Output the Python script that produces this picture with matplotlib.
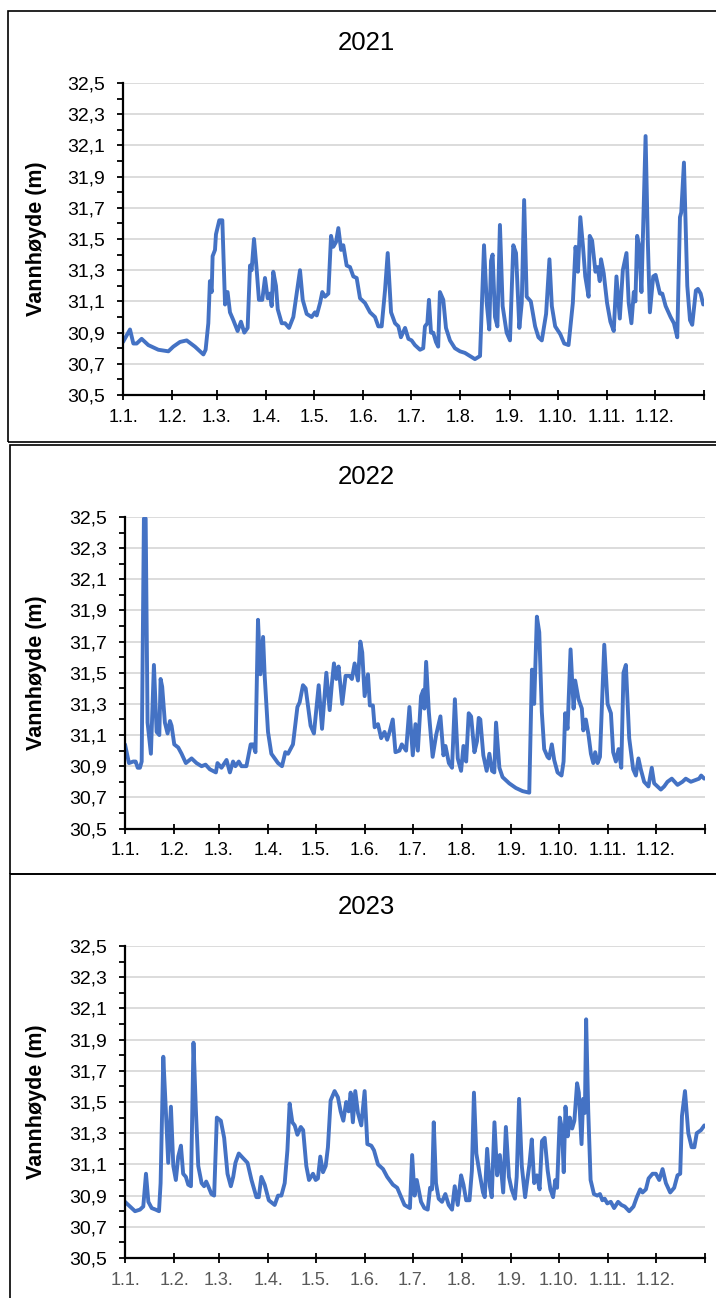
import numpy as np
import matplotlib
matplotlib.use("Agg")
import matplotlib.pyplot as plt
from matplotlib.patches import Rectangle
from matplotlib.ticker import FixedLocator, MultipleLocator

plt.rcParams['font.family'] = ['Liberation Sans', 'DejaVu Sans']

# day of year (0 = 1 Jan) and water level in metres
days_2021 = [0, 4.4, 6.5, 8.6, 11.7, 15.9, 22.2, 28.5, 31.6, 35.8, 40, 45.2, 50.5, 51.9,
             53.6, 54.6, 55.7, 56.3, 57.8, 58.4, 60.5, 62.4, 64.1, 65.7, 67.2, 69.3, 72,
             74.1, 76.2, 78.3, 79.8, 80.8, 82.3, 84, 85.4, 87.5, 89.2, 90.9, 92.3, 93.4,
             94.4, 96.1, 97.2, 99.7, 101.8, 104.3, 107, 109.1, 111.2, 112.9, 115.4, 118.5,
             120.6, 121.7, 123.8, 125.2, 126.9, 129, 130.7, 132.1, 133.8, 135.3, 137, 138.4,
             140.5, 142.6, 144.7, 146.8, 148.9, 152, 155.2, 158.3, 160.4, 162.5, 164.6,
             166.3, 168.4, 170.9, 173, 174.6, 177.2, 179.3, 181.3, 183.4, 186.6, 188.6,
             189.7, 191.2, 192.2, 193.5, 194.9, 196.6, 198, 199.1, 201.2, 202.9, 205.4,
             208.5, 211.7, 214.8, 218, 221.1, 224.3, 226.8, 228.5, 230.1, 231.2, 232.2,
             233.7, 235.2, 236.8, 238.5, 241, 243.1, 245.2, 246.9, 249, 250.5, 252, 253.6,
             256.2, 258.9, 261, 263.1, 265.8, 267.9, 269.4, 271.5, 274.7, 277.2, 279.9,
             282.6, 284.3, 285.8, 287.3, 289, 290.4, 292.5, 293.2, 294.7, 296.8, 298.2,
             299.5, 300.3, 302, 304.1, 306.2, 308.3, 310, 312.1, 314, 316.3, 317.7, 319.4,
             320.9, 321.9, 323, 324.2, 325.7, 328.3, 329.7, 331, 333.1, 334.6, 337.3,
             338.8, 340.9, 344, 346.1, 348.2, 349.9, 350.7, 352.4, 354.5, 356.2, 357.6,
             359.9, 361.2, 362.9, 364.5]
level_2021 = [30.84, 30.92, 30.83, 30.83, 30.86, 30.82, 30.79, 30.78, 30.81, 30.84, 30.85,
              30.81, 30.76, 30.79, 30.96, 31.23, 31.16, 31.39, 31.43, 31.53, 31.62, 31.62,
              31.08, 31.16, 31.03, 30.98, 30.91, 30.97, 30.90, 30.93, 31.33, 31.30, 31.50,
              31.30, 31.11, 31.11, 31.25, 31.12, 31.15, 31.07, 31.29, 31.20, 31.05, 30.96,
              30.96, 30.93, 31.00, 31.15, 31.30, 31.11, 31.02, 31.00, 31.03, 31.01, 31.09,
              31.16, 31.13, 31.15, 31.52, 31.45, 31.48, 31.57, 31.43, 31.46, 31.33, 31.32,
              31.26, 31.25, 31.12, 31.09, 31.03, 31.00, 30.94, 30.94, 31.17, 31.41, 31.03,
              30.96, 30.94, 30.87, 30.93, 30.86, 30.85, 30.82, 30.79, 30.80, 30.94, 30.96,
              31.11, 30.90, 30.90, 30.84, 30.81, 31.16, 31.11, 30.93, 30.85, 30.80, 30.78,
              30.77, 30.75, 30.73, 30.75, 31.46, 31.09, 30.92, 31.36, 31.40, 31.00, 30.94,
              31.59, 31.07, 30.90, 30.85, 31.46, 31.41, 30.93, 31.09, 31.75, 31.13, 31.10,
              30.94, 30.87, 30.85, 31.02, 31.37, 31.07, 30.94, 30.89, 30.83, 30.82, 31.09,
              31.45, 31.29, 31.64, 31.45, 31.26, 31.13, 31.52, 31.49, 31.29, 31.32, 31.23,
              31.37, 31.28, 31.09, 30.97, 30.91, 31.26, 30.99, 31.30, 31.41, 31.09, 30.96,
              31.16, 31.10, 31.52, 31.46, 31.16, 32.16, 31.49, 31.03, 31.26, 31.27, 31.15,
              31.15, 31.07, 31.00, 30.96, 30.87, 31.64, 31.67, 31.99, 31.20, 30.98, 30.95,
              31.17, 31.18, 31.15, 31.08]

days_2022 = [0, 2.5, 5.2, 6.7, 8, 9.4, 10.5, 11.9, 13, 14.2, 16.3, 18.2, 19.9, 21.6, 22.4,
             23.4, 25.1, 26.8, 28.3, 29.3, 31, 33.5, 35.6, 38.3, 41.9, 45, 48.2, 50.7, 53.4,
             57.2, 58.2, 60.7, 63.9, 66, 68, 69.5, 71.6, 73.3, 76.4, 79.1, 80.6, 82.1, 83.7,
             85.2, 86.9, 87.9, 90, 92.1, 96.3, 98.8, 100.9, 102.6, 105.7, 108.5, 109.9, 112,
             113.7, 116.8, 118.9, 121.9, 124, 126.7, 128.8, 130.2, 131.5, 133, 134.4, 136.7,
             138.8, 141.3, 142.8, 144.5, 146.6, 148.1, 149.3, 150.8, 152.9, 154.1, 156,
             157.1, 159.2, 161.2, 163.3, 165, 166.5, 168.5, 170.2, 172.7, 174.2, 176.9, 179,
             181.1, 182.8, 184.3, 186.3, 187.8, 188.4, 189.5, 191.2, 193.6, 195.8, 198.5,
             200.4, 201.7, 203.8, 205.8, 207.6, 209.4, 211.5, 213, 214.7, 216.3, 217.8,
             219.9, 221.5, 222.6, 223.6, 225.5, 227.6, 229.3, 231, 232.4, 233.5, 235.6,
             237.6, 241.8, 246, 250.2, 254.4, 256.1, 257.5, 259.2, 260.7, 262.3, 263.8,
             265.9, 266.9, 268.6, 270.1, 272.2, 274.7, 276, 277, 278.5, 280.4, 282.3, 283.3,
             285.4, 287.5, 288.4, 290, 291.7, 293.2, 294.7, 295.9, 297.4, 298.9, 301.6,
             303.7, 305.8, 307.2, 308.9, 310.6, 312.3, 313.7, 315.2, 317.3, 319.8, 321.5,
             323.1, 324.6, 326.7, 329.4, 331.5, 333, 335.1, 337.2, 339.3, 341.4, 344.1,
             347.7, 350.8, 352.9, 356.1, 358.8, 361.3, 362.6, 364.5]
level_2022 = [31.04, 30.92, 30.93, 30.93, 30.89, 30.89, 30.93, 32.49, 32.49, 31.18, 30.98,
              31.55, 31.12, 31.10, 31.46, 31.41, 31.18, 31.11, 31.19, 31.16, 31.04, 31.02,
              30.98, 30.92, 30.95, 30.92, 30.90, 30.91, 30.88, 30.86, 30.92, 30.89, 30.94,
              30.86, 30.93, 30.90, 30.93, 30.90, 30.90, 31.04, 31.04, 30.99, 31.84, 31.49,
              31.73, 31.48, 31.12, 30.98, 30.92, 30.90, 30.99, 30.98, 31.04, 31.28, 31.31,
              31.42, 31.40, 31.16, 31.11, 31.42, 31.14, 31.50, 31.26, 31.43, 31.56, 31.46,
              31.54, 31.30, 31.48, 31.48, 31.46, 31.56, 31.45, 31.70, 31.63, 31.35, 31.49,
              31.29, 31.29, 31.15, 31.17, 31.08, 31.12, 31.07, 31.12, 31.20, 30.99, 31.00,
              31.04, 31.00, 31.28, 30.97, 31.17, 31.00, 31.35, 31.39, 31.27, 31.57, 31.25,
              30.96, 31.10, 31.22, 30.97, 31.03, 30.92, 30.89, 31.33, 30.95, 30.87, 31.03,
              30.93, 31.24, 31.22, 30.99, 31.06, 31.21, 31.20, 30.97, 30.87, 30.98, 30.87,
              30.86, 31.18, 30.89, 30.83, 30.79, 30.76, 30.74, 30.73, 31.52, 31.30, 31.86,
              31.76, 31.25, 31.01, 30.96, 30.95, 31.04, 30.94, 30.86, 30.84, 30.93, 31.24,
              31.14, 31.65, 31.27, 31.45, 31.33, 31.27, 31.13, 31.20, 31.10, 30.98, 30.92,
              30.99, 30.92, 30.96, 31.68, 31.30, 31.24, 30.99, 30.93, 31.01, 30.89, 31.50,
              31.55, 31.08, 30.88, 30.84, 30.95, 30.88, 30.80, 30.77, 30.89, 30.79, 30.77,
              30.75, 30.77, 30.80, 30.82, 30.78, 30.80, 30.82, 30.80, 30.81, 30.82, 30.84,
              30.82]

days_2023 = [0, 3.1, 6.3, 9.4, 11.5, 13.2, 14.7, 16.8, 19.3, 21.4, 22.4, 24.1, 25.5, 27.2,
             28.9, 30.4, 32, 33.5, 35.2, 36.6, 38.3, 39.8, 41.5, 43.1, 44.6, 46.1, 48.2,
             49.8, 51.1, 52.4, 54.4, 56.1, 57.8, 60.3, 62.4, 64.5, 66.6, 68.1, 69.5, 71.6,
             74.3, 77.1, 79.6, 82.7, 84.2, 85.8, 87.9, 90.5, 94.2, 96.3, 98.4, 100.5, 102.2,
             103.6, 105.3, 106.8, 108.5, 110.6, 112.1, 114.1, 115.8, 118.3, 120, 121.4,
             122.9, 124.6, 126.3, 127.7, 129.4, 131.9, 134, 135.7, 137.4, 139.2, 140.7, 142,
             143.4, 144.9, 146.6, 148.7, 150.8, 152.5, 155, 156.7, 159.2, 162.4, 165, 168.6,
             171.3, 173.8, 175.9, 179.3, 180.7, 182.2, 183.6, 186.3, 188.4, 190.5, 192,
             193.2, 194.3, 195.7, 197.4, 199.5, 201.6, 203.7, 205.8, 207.5, 209.4, 211.5,
             213, 214.7, 216.8, 218.3, 219.6, 221.1, 223.2, 225.3, 226.4, 227.9, 229.6,
             230.8, 232.5, 234.2, 235.9, 238, 239.7, 241.6, 243.3, 245.4, 246.5, 248, 249.7,
             251.8, 253.3, 254.5, 256, 257.5, 259.2, 260.9, 262.4, 264.1, 266, 267.7, 269.4,
             270.8, 271.9, 273.6, 275, 276.1, 277.2, 278.6, 279.9, 281.4, 282.8, 284.5,
             285.6, 287.3, 288.3, 289.4, 290.2, 291.5, 293, 295.1, 297.2, 298.9, 300.4,
             301.9, 303.5, 305.7, 307.8, 310.3, 312.4, 314.5, 317.3, 320, 322.1, 324.2,
             325.7, 327.8, 329.5, 332, 334.1, 336.2, 338.3, 340.4, 343.1, 345.6, 347.7,
             349.4, 350.5, 352.4, 354.5, 356.6, 358.3, 359.8, 362.5, 364.6]
level_2023 = [30.86, 30.83, 30.80, 30.81, 30.83, 31.04, 30.86, 30.82, 30.81, 30.80, 30.98,
              31.79, 31.49, 31.11, 31.47, 31.09, 31.00, 31.15, 31.22, 31.04, 31.02, 30.97,
              30.96, 31.88, 31.45, 31.09, 30.98, 30.96, 30.99, 30.96, 30.91, 30.90, 31.40,
              31.38, 31.27, 31.04, 30.96, 31.02, 31.11, 31.17, 31.14, 31.11, 31.00, 30.89,
              30.89, 31.02, 30.97, 30.87, 30.84, 30.90, 30.90, 30.98, 31.19, 31.49, 31.37,
              31.35, 31.29, 31.34, 31.32, 31.09, 31.00, 31.04, 31.00, 31.01, 31.15, 31.05,
              31.09, 31.21, 31.51, 31.57, 31.53, 31.44, 31.38, 31.50, 31.44, 31.56, 31.37,
              31.57, 31.43, 31.35, 31.57, 31.23, 31.22, 31.19, 31.10, 31.07, 31.02, 30.97,
              30.95, 30.89, 30.84, 30.82, 31.16, 30.90, 31.00, 30.86, 30.82, 30.81, 30.95,
              30.94, 31.37, 30.98, 30.88, 30.86, 30.91, 30.84, 30.81, 30.96, 30.84, 31.03,
              30.97, 30.87, 30.87, 31.06, 31.56, 31.17, 31.04, 30.92, 30.89, 31.20, 30.96,
              30.89, 31.37, 31.03, 31.16, 30.92, 31.34, 31.02, 30.94, 30.88, 31.02, 31.52,
              31.09, 30.89, 31.01, 31.10, 31.26, 30.98, 31.03, 30.94, 31.25, 31.27, 31.06,
              30.94, 30.89, 31.00, 30.95, 31.40, 31.33, 31.05, 31.47, 31.28, 31.40, 31.33,
              31.38, 31.62, 31.56, 31.23, 31.52, 31.43, 32.03, 31.45, 31.00, 30.91, 30.90,
              30.91, 30.87, 30.88, 30.85, 30.86, 30.82, 30.86, 30.84, 30.83, 30.80, 30.83,
              30.89, 30.94, 30.92, 30.94, 31.01, 31.04, 31.04, 31.00, 31.07, 30.98, 30.92,
              30.95, 31.03, 31.04, 31.41, 31.57, 31.30, 31.21, 31.21, 31.30, 31.32, 31.35]

years = ["2021", "2022", "2023"]
month_starts = [0, 31, 59, 90, 120, 151, 181, 212, 243, 273, 304, 334, 365]
month_labels = ["1.1.", "1.2.", "1.3.", "1.4.", "1.5.", "1.6.", "1.7.", "1.8.",
                "1.9.", "1.10.", "1.11.", "1.12.", ""]

W, H = 716, 1298
fig = plt.figure(figsize=(W / 100, H / 100), dpi=100)


def box(l, t, r, b):
    return [l / W, 1 - b / H, (r - l) / W, (b - t) / H]


# (plot area, chart frame, title y, x label colour) in pixels
layout = [
    ((123, 83, 704, 395), (8, 11, 730, 442.5), 43, "black"),
    ((125, 517, 705, 828.5), (9.5, 445, 730, 874), 477, "black"),
    ((125, 946, 705, 1258), (10, 874, 730, 1310), 907, "#595959"),
]

series = [(days_2021, level_2021), (days_2022, level_2022), (days_2023, level_2023)]

for year, (days, levels), (area, frame, ty, xcol) in zip(years, series, layout):
    fl, ft, fr, fb = frame
    fig.patches.append(Rectangle((fl / W, 1 - fb / H), (fr - fl) / W, (fb - ft) / H,
                                 transform=fig.transFigure, fill=False,
                                 edgecolor="black", linewidth=1.2, zorder=0))
    ax = fig.add_axes(box(*area))
    ax.plot(days, levels, color="#4472C4", linewidth=2.8,
            solid_joinstyle="round", solid_capstyle="round")
    ax.set_xlim(0, 365)
    ax.set_ylim(30.5, 32.5)

    yt = np.arange(30.5, 32.51, 0.2)
    ax.set_yticks(yt)
    ax.set_yticklabels([f"{v:.1f}".replace(".", ",") for v in yt], fontsize=14)
    ax.yaxis.set_minor_locator(MultipleLocator(0.1))
    ax.grid(axis="y", which="major", color="#D9D9D9", linewidth=1.3)
    ax.set_axisbelow(True)

    ax.xaxis.set_major_locator(FixedLocator(month_starts))
    ax.set_xticklabels(month_labels, fontsize=13, color=xcol)

    for s in ("top", "right"):
        ax.spines[s].set_visible(False)
    for s in ("left", "bottom"):
        ax.spines[s].set_linewidth(1.6)
        ax.spines[s].set_color("black")
    ax.tick_params(axis="y", which="both", direction="out", length=4.3, width=1.3, pad=8.5)
    ax.tick_params(axis="x", direction="inout", length=7.5, width=1.3, pad=6)

    fig.text(366 / W, 1 - ty / H, year, ha="center", va="center", fontsize=18.5)
    cy = (area[1] + area[3]) / 2
    fig.text(37 / W, 1 - cy / H, "Vannhøyde (m)", rotation=90, ha="center",
             va="center", fontsize=15.5, fontweight="bold")

fig.savefig("out.png", dpi=100)
